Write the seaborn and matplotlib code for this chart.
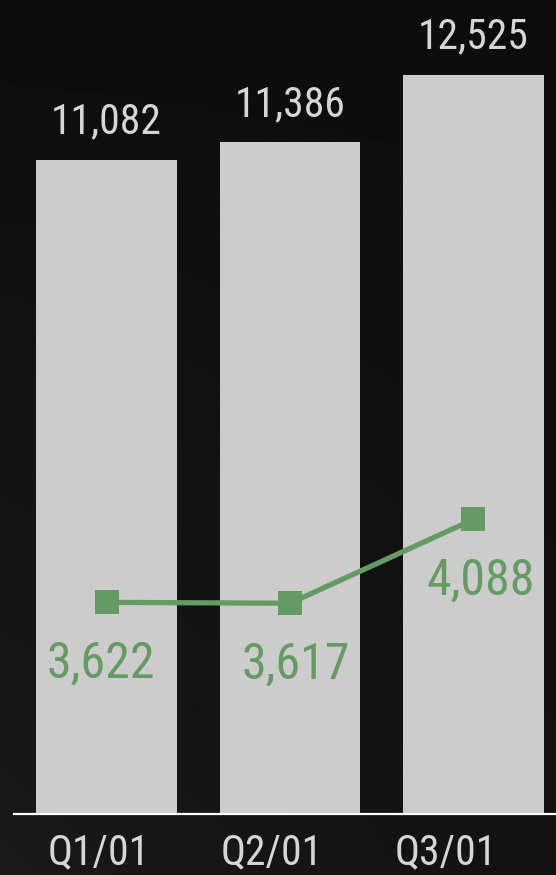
import numpy as np
import pandas as pd
import matplotlib
matplotlib.use("Agg")
import matplotlib.pyplot as plt
import matplotlib.transforms as mtransforms
import seaborn as sns
from matplotlib import font_manager

# Quarterly values
quarters = ["Q1/01", "Q2/01", "Q3/01"]
bar_values = [11082, 11386, 12525]
line_values = [3622, 3617, 4088]

df = pd.DataFrame({"quarter": quarters, "total": bar_values, "part": line_values})

sns.set_theme(style="dark")
plt.rcParams["font.family"] = ["Liberation Sans", "DejaVu Sans"]

# the reference uses a narrow sans; take the best condensed face available
fonts = font_manager.fontManager.ttflist
narrow = None
for key in ["Roboto Condensed", "Liberation Sans Narrow", "Open Sans Condensed", "Condensed", "Narrow"]:
    for f in fonts:
        if key in f.name and f.style == "normal" and f.weight in (400, "normal", "regular"):
            narrow = f
            break
    if narrow:
        break
fp = font_manager.FontProperties(fname=narrow.fname) if narrow else font_manager.FontProperties(family=["Liberation Sans"])
is_roboto = narrow is not None and "Roboto" in narrow.name
size_small = 30 if is_roboto else 27
size_green = 36 if is_roboto else 31

bar_col = "#cccccc"
green = "#659a64"
txt_col = "#d6d6d6"

fig = plt.figure(figsize=(5.56, 8.75), dpi=100)
fig.patch.set_facecolor("#111111")

# dark background gradient, a bit lighter towards the bottom left
bg = fig.add_axes([0, 0, 1, 1], zorder=-10)
yy, xx = np.mgrid[0:1:200j, 0:1:200j]
shade = 0.05 + 0.05 * yy * (1 - 0.6 * xx)
bg.imshow(shade, cmap="gray", vmin=0, vmax=1, aspect="auto", origin="upper")
bg.axis("off")

ax = fig.add_axes([14 / 556, 61 / 875, 542 / 556, 814 / 875])
ax.set_facecolor("none")
sns.barplot(data=df, x="quarter", y="total", color=bar_col, width=0.768,
            saturation=1, edgecolor="none", linewidth=0, ax=ax, zorder=2)
ax.set_xlim(-0.505, 2.45)
ax.set_ylim(0, 13797)

for i, v in enumerate(bar_values):
    ax.annotate(f"{v:,}", (i, v), xytext=(0, 19), textcoords="offset points",
                ha="center", va="baseline", color=txt_col, fontproperties=fp, fontsize=size_small)

ax2 = ax.twinx()
sns.lineplot(x=np.arange(len(quarters)), y=line_values, color=green, lw=3.8,
             marker="s", markersize=17, markeredgewidth=0, ax=ax2, zorder=3)
ax2.set_ylim(2433, 7006)
green_dx = [-4, 4, 5]
for i, v in enumerate(line_values):
    ax2.annotate(f"{v:,}", (i, v), xytext=(green_dx[i], -54), textcoords="offset points",
                 ha="center", va="baseline", color=green, fontproperties=fp, fontsize=size_green)

for a in (ax, ax2):
    a.set_yticks([])
    a.set_ylabel("")
    a.grid(False)
    for s in a.spines.values():
        s.set_visible(False)
ax2.set_xlim(-0.505, 2.45)

ax.spines["bottom"].set_visible(True)
ax.spines["bottom"].set_color("white")
ax.spines["bottom"].set_linewidth(1.6)
ax.set_xlabel("")
ax.tick_params(axis="x", length=0, pad=13, colors=txt_col)
# category labels sit a little left of the bar centres in the reference
for i, t in enumerate(ax.get_xticklabels()):
    t.set_fontproperties(fp)
    t.set_fontsize(size_small)
    shift = mtransforms.ScaledTranslation(-(8 + 10 * i) / 100, 0, fig.dpi_scale_trans)
    t.set_transform(t.get_transform() + shift)

fig.savefig("out.png", dpi=100, facecolor=fig.get_facecolor())
